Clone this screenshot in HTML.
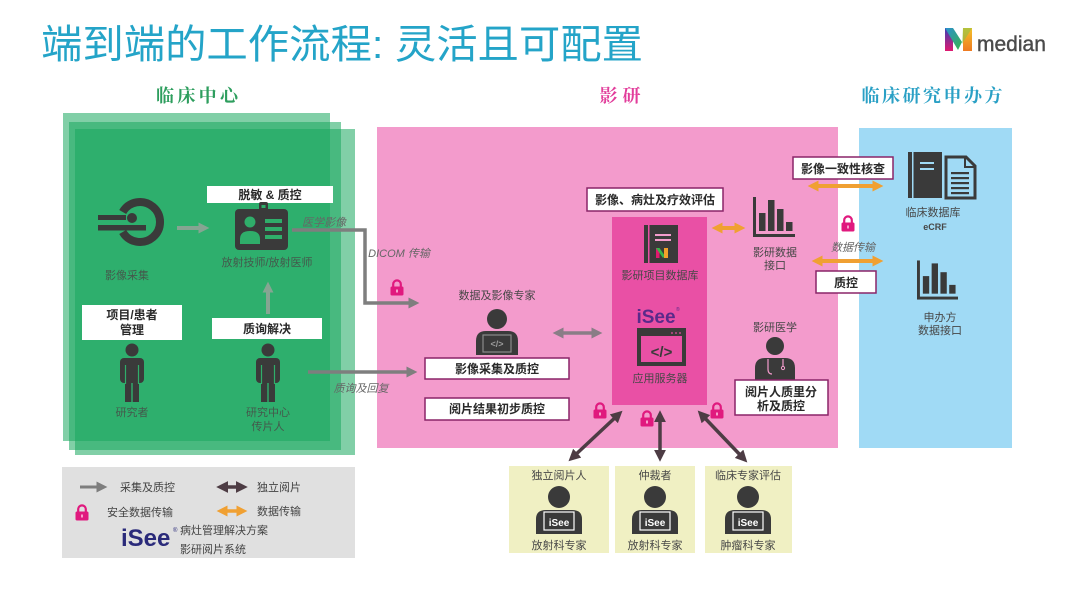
<!DOCTYPE html>
<html><head><meta charset="utf-8">
<style>
html,body{margin:0;padding:0;background:#fff;}
svg{display:block;}
text{font-family:"Liberation Sans","Noto Sans CJK SC",sans-serif;}
.lb{font-size:11px;fill:#474747;text-anchor:middle;}
.lg{font-size:11px;fill:#44594c;text-anchor:middle;}
.bx{font-size:12px;font-weight:bold;fill:#2a2a2a;text-anchor:middle;}
.it{font-size:11px;font-style:italic;fill:#666;text-anchor:middle;}
.hd{font-family:"Liberation Serif","Noto Serif CJK SC",serif;font-size:18px;font-weight:bold;text-anchor:middle;}
</style></head><body>
<svg width="1080" height="608" viewBox="0 0 1080 608" xmlns="http://www.w3.org/2000/svg">
<defs>
<marker id="mg" viewBox="0 0 10 10" markerWidth="11" markerHeight="11" refX="6" refY="5" orient="auto-start-reverse" markerUnits="userSpaceOnUse"><path d="M0,0 L10,5 L0,10 z" fill="#7e7e7e"/></marker>
<marker id="mgg" viewBox="0 0 10 10" markerWidth="11" markerHeight="11" refX="6" refY="5" orient="auto-start-reverse" markerUnits="userSpaceOnUse"><path d="M0,0 L10,5 L0,10 z" fill="#86a592"/></marker>
<marker id="mp" viewBox="0 0 10 10" markerWidth="11" markerHeight="11" refX="6" refY="5" orient="auto-start-reverse" markerUnits="userSpaceOnUse"><path d="M0,0 L10,5 L0,10 z" fill="#8a7d86"/></marker>
<marker id="md" viewBox="0 0 10 10" markerWidth="12" markerHeight="12" refX="6" refY="5" orient="auto-start-reverse" markerUnits="userSpaceOnUse"><path d="M0,0 L10,5 L0,10 z" fill="#4d3c44"/></marker>
<marker id="mo" viewBox="0 0 10 10" markerWidth="11" markerHeight="11" refX="6" refY="5" orient="auto-start-reverse" markerUnits="userSpaceOnUse"><path d="M0,0 L10,5 L0,10 z" fill="#f0a032"/></marker>
<symbol id="lock" viewBox="0 0 14 17"><path d="M3.2,8 V5.2 A3.8,3.8 0 0 1 10.8,5.2 V8" fill="none" stroke="#e0197e" stroke-width="2.2"/><rect x="0.5" y="7.5" width="13" height="9" rx="1.5" fill="#e0197e"/><rect x="6" y="10.5" width="2" height="3" fill="#f7a0cc"/></symbol>
<symbol id="bars" viewBox="0 0 42 40"><rect x="0" y="0" width="3" height="40" fill="#3a3a3a"/><rect x="0" y="37" width="42" height="3" fill="#3a3a3a"/><rect x="6" y="16" width="6.5" height="18" fill="#3a3a3a"/><rect x="15" y="3" width="6.5" height="31" fill="#3a3a3a"/><rect x="24" y="12" width="6.5" height="22" fill="#3a3a3a"/><rect x="33" y="25" width="6.5" height="9" fill="#3a3a3a"/></symbol>
<g id="rev">
<circle cx="0" cy="0" r="11" fill="#3a3a3a"/>
<path d="M-23,37 V22 Q-23,13 -13,13 H13 Q23,13 23,22 V37 Z" fill="#3a3a3a"/>
<rect x="-15" y="15" width="30" height="18" fill="none" stroke="#fff" stroke-width="1.2"/>
<text x="0" y="29" font-size="10" font-weight="bold" fill="#fff" text-anchor="middle">iSee</text>
</g>
</defs>

<!-- title -->
<text x="41" y="58" font-size="40" fill="#24a4c8" textLength="602" lengthAdjust="spacingAndGlyphs">端到端的工作流程: 灵活且可配置</text>

<!-- logo -->
<defs>
<linearGradient id="lgL" x1="0" y1="0" x2="0" y2="1"><stop offset="0" stop-color="#3a3fb5"/><stop offset="1" stop-color="#e0196f"/></linearGradient>
<linearGradient id="lgR" x1="0" y1="0" x2="0" y2="1"><stop offset="0" stop-color="#f3c12a"/><stop offset="1" stop-color="#ee7a22"/></linearGradient>
<linearGradient id="lgM" x1="0" y1="0" x2="1" y2="1"><stop offset="0" stop-color="#2b8fd0"/><stop offset="1" stop-color="#37b44a"/></linearGradient>
</defs>
<rect x="945" y="28" width="8" height="23" fill="url(#lgL)"/>
<path d="M945,28 H953 L962,42 L958,50 Z" fill="url(#lgM)"/>
<rect x="963" y="28" width="9" height="23" fill="url(#lgR)"/>
<path d="M963,28 H972 L962,44 Z" fill="#8bc34a" opacity="0.6"/>
<text x="977" y="51" font-size="21" fill="#4a4a4a" stroke="#4a4a4a" stroke-width="0.4">median</text>

<!-- headers -->
<text class="hd" x="197" y="102" fill="#2e9e5e" textLength="82">临床中心</text>
<text class="hd" x="620" y="102" fill="#e23d9b" textLength="41">影研</text>
<text class="hd" x="932" y="102" fill="#2aa0c5" textLength="141">临床研究申办方</text>

<!-- green panels -->
<rect x="63" y="113" width="267" height="328" fill="#19a85f" fill-opacity="0.55"/>
<rect x="69" y="122" width="272" height="328" fill="#19a85f" fill-opacity="0.55"/>
<rect x="75" y="129" width="280" height="326" fill="#19a85f" fill-opacity="0.55"/>

<!-- pink panel -->
<rect x="377" y="127" width="461" height="321" fill="#f39bcc"/>
<!-- blue panel -->
<rect x="859" y="128" width="153" height="320" fill="#a0daf5"/>

<!-- green content -->
<!-- scanner -->
<path d="M122.7,212 A20,20 0 1 1 122.7,232" fill="none" stroke="#3a3a3a" stroke-width="8"/>
<rect x="98" y="215" width="28" height="5" fill="#3a3a3a"/>
<circle cx="132" cy="218" r="5" fill="#3a3a3a"/>
<rect x="98" y="225" width="48" height="5.5" fill="#3a3a3a"/>
<text class="lg" x="127" y="279">影像采集</text>

<line x1="177" y1="228" x2="205" y2="228" stroke="#86a592" stroke-width="4" marker-end="url(#mgg)"/>

<!-- badge -->
<rect x="207" y="186" width="126" height="17" fill="#fff"/>
<text class="bx" x="270" y="199" font-size="11.5">脱敏 &amp; 质控</text>
<rect x="235" y="209" width="53" height="41" rx="4" fill="#3a3a3a"/>
<rect x="259" y="202" width="9" height="10" rx="2" fill="#3a3a3a"/>
<rect x="261.5" y="205" width="4" height="3" fill="#2fae6a"/>
<circle cx="250" cy="222" r="5.5" fill="#2fae6a"/>
<path d="M240,244 v-5 q0,-8 10,-8 q10,0 10,8 v5 z" fill="#2fae6a"/>
<rect x="265" y="219" width="17" height="4" fill="#2fae6a"/>
<rect x="265" y="227" width="17" height="4" fill="#2fae6a"/>
<rect x="265" y="235" width="17" height="4" fill="#2fae6a"/>
<text class="lg" x="267" y="266">放射技师/放射医师</text>

<line x1="268" y1="314" x2="268" y2="286" stroke="#86a592" stroke-width="4" marker-end="url(#mgg)"/>

<rect x="82" y="305" width="100" height="35" fill="#fff"/>
<text class="bx" x="132" y="319">项目/患者</text>
<text class="bx" x="132" y="334">管理</text>
<rect x="212" y="318" width="110" height="21" fill="#fff"/>
<text class="bx" x="267" y="333">质询解决</text>

<!-- persons -->
<g fill="#3a3a3a">
<circle cx="132" cy="350" r="6.5"/>
<rect x="120" y="358" width="24" height="25" rx="4"/>
<rect x="125" y="380" width="6.3" height="22"/>
<rect x="132.7" y="380" width="6.3" height="22"/>
<circle cx="268" cy="350" r="6.5"/>
<rect x="256" y="358" width="24" height="25" rx="4"/>
<rect x="261" y="380" width="6.3" height="22"/>
<rect x="268.7" y="380" width="6.3" height="22"/>
</g>
<g stroke="#2fae6a" stroke-width="1.2">
<line x1="125.5" y1="365" x2="125.5" y2="384"/><line x1="138.5" y1="365" x2="138.5" y2="384"/>
<line x1="261.5" y1="365" x2="261.5" y2="384"/><line x1="274.5" y1="365" x2="274.5" y2="384"/>
</g>
<text class="lg" x="132" y="416">研究者</text>
<text class="lg" x="268" y="416">研究中心</text>
<text class="lg" x="268" y="430">传片人</text>

<!-- medical image path -->
<polyline points="292,230 365,230 365,303 415,303" fill="none" stroke="#7e7e7e" stroke-width="3.5" marker-end="url(#mg)"/>
<text class="it" x="324" y="226">医学影像</text>
<text class="it" x="399" y="257">DICOM 传输</text>
<use href="#lock" x="390" y="279" width="14" height="17"/>

<line x1="308" y1="372" x2="413" y2="372" stroke="#7e7e7e" stroke-width="3.5" marker-end="url(#mg)"/>
<text class="it" x="361" y="392">质询及回复</text>

<!-- pink content -->
<text class="lb" x="497" y="299">数据及影像专家</text>
<g>
<circle cx="497" cy="319" r="10" fill="#3a3a3a"/>
<path d="M476,355 V341 Q476,331 486,331 H508 Q518,331 518,341 V355 Z" fill="#3a3a3a"/>
<rect x="483" y="335" width="28" height="17" fill="none" stroke="#8a8a8a" stroke-width="1.2"/>
<text x="497" y="347" font-size="9" font-weight="bold" fill="#9a9a9a" text-anchor="middle">&lt;/&gt;</text>
</g>
<rect x="425" y="358" width="144" height="21" fill="#fff" stroke="#8a2468" stroke-width="1.5"/>
<text class="bx" x="497" y="373">影像采集及质控</text>
<rect x="425" y="398" width="144" height="22" fill="#fff" stroke="#8a2468" stroke-width="1.5"/>
<text class="bx" x="497" y="413">阅片结果初步质控</text>

<line x1="557" y1="333" x2="598" y2="333" stroke="#8a7d86" stroke-width="3.5" marker-start="url(#mp)" marker-end="url(#mp)"/>

<!-- central column -->
<rect x="612" y="217" width="95" height="188" fill="#e950a5"/>
<rect x="587" y="188" width="136" height="23" fill="#fff" stroke="#8a2468" stroke-width="1.5"/>
<text class="bx" x="655" y="204">影像、病灶及疗效评估</text>
<!-- db icon -->
<rect x="644" y="225" width="34" height="38" fill="#3a3a3a"/>
<rect x="648" y="225" width="1.5" height="38" fill="#e950a5"/>
<rect x="655" y="234" width="16" height="2" fill="#f39bcc"/>
<rect x="655" y="239" width="16" height="2" fill="#f39bcc"/>
<rect x="656" y="248" width="3.5" height="10" fill="#e0196f"/>
<path d="M656,248 H659.5 L665,256 L663,258 Z" fill="#37b44a"/>
<rect x="664" y="248" width="4" height="10" fill="#f3a12a"/>
<text class="lb" x="660" y="279">影研项目数据库</text>
<text x="656" y="323" font-size="19" font-weight="bold" fill="#5a2a8a" text-anchor="middle">iSee</text>
<text x="676" y="311" font-size="5" fill="#5a2a8a">®</text>
<!-- code window -->
<rect x="639" y="330" width="45" height="34" fill="none" stroke="#3a3a3a" stroke-width="4"/>
<rect x="639" y="330" width="45" height="6" fill="#3a3a3a"/>
<circle cx="672" cy="333" r="0.9" fill="#e950a5"/><circle cx="676" cy="333" r="0.9" fill="#e950a5"/><circle cx="680" cy="333" r="0.9" fill="#e950a5"/>
<text x="661.5" y="357" font-size="15" font-weight="bold" fill="#3a3a3a" text-anchor="middle">&lt;/&gt;</text>
<text class="lb" x="660" y="382">应用服务器</text>

<use href="#lock" x="593" y="402" width="14" height="17"/>
<use href="#lock" x="640" y="410" width="14" height="17"/>
<use href="#lock" x="710" y="402" width="14" height="17"/>

<line x1="716" y1="228" x2="741" y2="228" stroke="#f0a032" stroke-width="4" marker-start="url(#mo)" marker-end="url(#mo)"/>
<use href="#bars" x="753" y="197" width="42" height="40"/>
<text class="lb" x="775" y="256">影研数据</text>
<text class="lb" x="775" y="269">接口</text>
<text class="lb" x="775" y="331">影研医学</text>
<!-- doctor -->
<circle cx="775" cy="346" r="9" fill="#3a3a3a"/>
<path d="M755,382 V368 Q755,358 765,358 H785 Q795,358 795,368 V382 Z" fill="#3a3a3a"/>
<path d="M768,359 V369 Q768,374 772,374" fill="none" stroke="#f39bcc" stroke-width="1.2"/>
<path d="M783,359 V366" fill="none" stroke="#f39bcc" stroke-width="1.2"/>
<circle cx="783" cy="368" r="1.6" fill="none" stroke="#f39bcc" stroke-width="1"/>
<rect x="735" y="380" width="93" height="35" fill="#fff" stroke="#8a2468" stroke-width="1.5"/>
<text class="bx" x="781" y="396">阅片人质里分</text>
<text class="bx" x="781" y="410">析及质控</text>

<!-- bottom arrows -->
<line x1="619" y1="414" x2="572" y2="458" stroke="#4d3c44" stroke-width="3.5" marker-start="url(#md)" marker-end="url(#md)"/>
<line x1="660" y1="415" x2="660" y2="457" stroke="#4d3c44" stroke-width="3.5" marker-start="url(#md)" marker-end="url(#md)"/>
<line x1="701" y1="414" x2="744" y2="459" stroke="#4d3c44" stroke-width="3.5" marker-start="url(#md)" marker-end="url(#md)"/>

<!-- right side -->
<rect x="793" y="157" width="100" height="22" fill="#fff" stroke="#8a2468" stroke-width="1.5"/>
<text class="bx" x="843" y="173">影像一致性核查</text>
<line x1="812" y1="186" x2="879" y2="186" stroke="#f0a032" stroke-width="4" marker-start="url(#mo)" marker-end="url(#mo)"/>
<use href="#lock" x="841" y="215" width="14" height="17"/>
<text class="it" x="853" y="251" fill="#555">数据传输</text>
<line x1="816" y1="261" x2="879" y2="261" stroke="#f0a032" stroke-width="4" marker-start="url(#mo)" marker-end="url(#mo)"/>
<rect x="816" y="271" width="60" height="22" fill="#fff" stroke="#8a2468" stroke-width="1.5"/>
<text class="bx" x="846" y="287">质控</text>

<!-- clinical db -->
<rect x="908" y="152" width="34" height="46" fill="#3a3a3a"/>
<rect x="912" y="152" width="1.5" height="46" fill="#a0daf5"/>
<rect x="920" y="162" width="14" height="2" fill="#a0daf5"/>
<rect x="920" y="168" width="14" height="2" fill="#a0daf5"/>
<path d="M946,157 H966 L975,166 V198 H946 Z" fill="none" stroke="#3a3a3a" stroke-width="3"/>
<path d="M965,157 V167 H975" fill="none" stroke="#3a3a3a" stroke-width="2"/>
<rect x="951" y="172" width="18" height="2.2" fill="#3a3a3a"/>
<rect x="951" y="177" width="18" height="2.2" fill="#3a3a3a"/>
<rect x="951" y="182" width="18" height="2.2" fill="#3a3a3a"/>
<rect x="951" y="187" width="18" height="2.2" fill="#3a3a3a"/>
<rect x="951" y="192" width="18" height="2.2" fill="#3a3a3a"/>
<text class="lb" x="933" y="216">临床数据库</text>
<text x="935" y="230" font-size="9" font-weight="bold" fill="#474747" text-anchor="middle">eCRF</text>
<use href="#bars" x="917" y="260" width="41" height="40"/>
<text class="lb" x="940" y="321">申办方</text>
<text class="lb" x="940" y="334">数据接口</text>

<!-- reviewers -->
<rect x="509" y="466" width="100" height="87" fill="#f0f0c3"/>
<rect x="615" y="466" width="80" height="87" fill="#f0f0c3"/>
<rect x="705" y="466" width="87" height="87" fill="#f0f0c3"/>
<text class="lb" x="559" y="479" font-size="11.5">独立阅片人</text>
<text class="lb" x="655" y="479" font-size="11.5">仲裁者</text>
<text class="lb" x="748" y="479" font-size="11.5">临床专家评估</text>
<use href="#rev" x="559" y="497"/>
<use href="#rev" x="655" y="497"/>
<use href="#rev" x="748" y="497"/>
<text class="lb" x="559" y="549" font-size="11.5">放射科专家</text>
<text class="lb" x="655" y="549" font-size="11.5">放射科专家</text>
<text class="lb" x="748" y="549" font-size="11.5">肿瘤科专家</text>

<!-- legend -->
<rect x="62" y="467" width="293" height="91" fill="#e0e0e0"/>
<line x1="80" y1="487" x2="103" y2="487" stroke="#7e7e7e" stroke-width="3" marker-end="url(#mg)"/>
<text x="120" y="491" font-size="11" fill="#444">采集及质控</text>
<line x1="221" y1="487" x2="243" y2="487" stroke="#4d3c44" stroke-width="3.5" marker-start="url(#md)" marker-end="url(#md)"/>
<text x="257" y="491" font-size="11" fill="#444">独立阅片</text>
<use href="#lock" x="75" y="504" width="14" height="17"/>
<text x="107" y="516" font-size="11" fill="#444">安全数据传输</text>
<line x1="221" y1="511" x2="243" y2="511" stroke="#f0a032" stroke-width="3.5" marker-start="url(#mo)" marker-end="url(#mo)"/>
<text x="257" y="515" font-size="11" fill="#444">数据传输</text>
<text x="121" y="546" font-size="24" font-weight="bold" fill="#2a2a7a">iSee</text>
<text x="173" y="532" font-size="6" fill="#2a2a7a">®</text>
<text x="180" y="534" font-size="11" fill="#444">病灶管理解决方案</text>
<text x="180" y="553" font-size="11" fill="#444">影研阅片系统</text>
</svg>
</body></html>
